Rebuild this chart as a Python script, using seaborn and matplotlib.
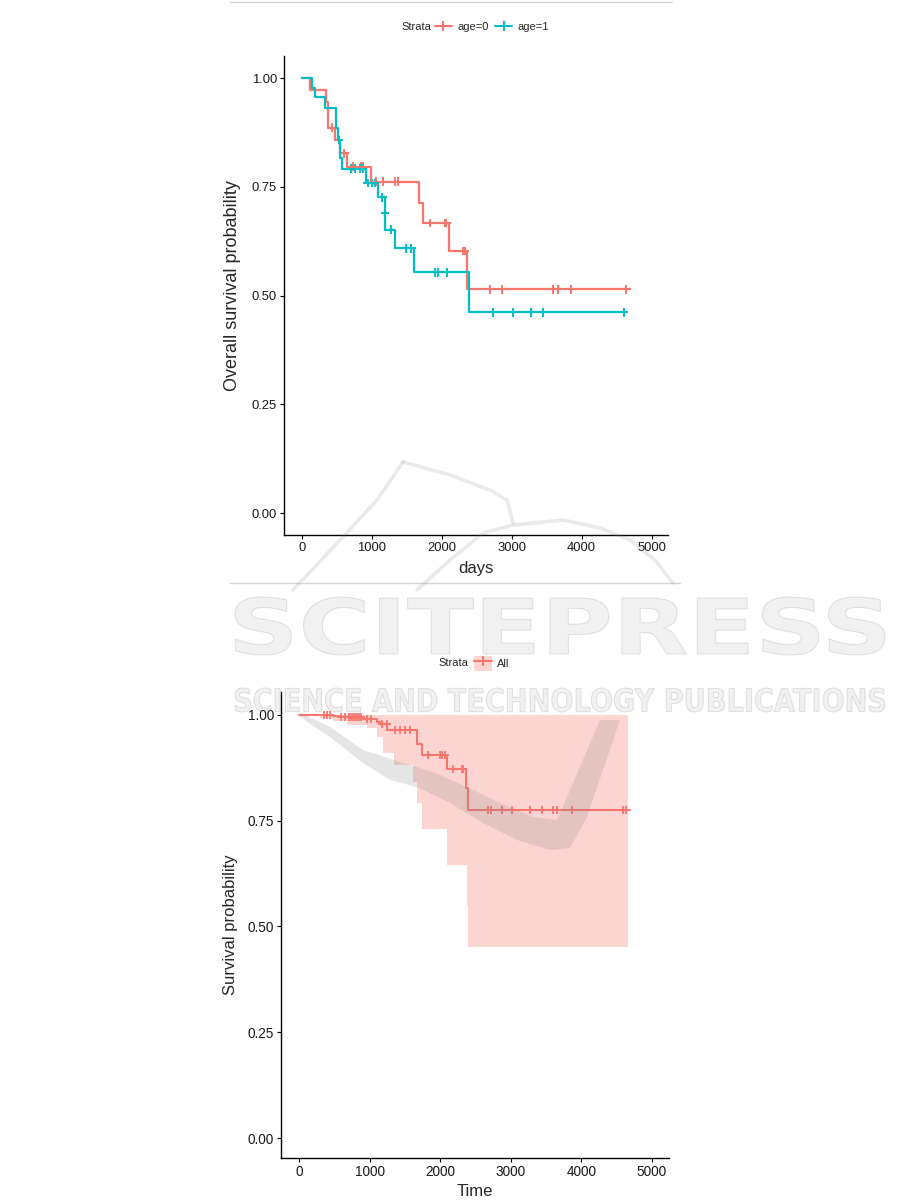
import numpy as np
import pandas as pd
import matplotlib
matplotlib.use("Agg")
import matplotlib.pyplot as plt
import seaborn as sns
from matplotlib.lines import Line2D
from matplotlib.patches import Patch, PathPatch, Polygon
from matplotlib.textpath import TextPath
from matplotlib.font_manager import FontProperties
from matplotlib.transforms import Affine2D, IdentityTransform
from matplotlib.legend_handler import HandlerTuple

#%% data
# top panel: KM curves by age group (step times, survival after the step)
age0_time = [0, 114, 352, 376, 481, 543, 650, 985, 1671, 1733, 2100, 2367]
age0_surv = [1.0, 0.973, 0.946, 0.886, 0.858, 0.827, 0.797, 0.762, 0.713, 0.667, 0.603, 0.515]
age0_end = 4686
age0_censor = [438, 605, 733, 843, 876, 1067, 1162, 1329, 1376, 1829, 2043, 2067,
               2305, 2329, 2685, 2867, 3590, 3662, 3852, 4638]

age1_time = [0, 148, 195, 338, 486, 524, 543, 571, 914, 1090, 1186, 1195, 1338, 1605, 2390]
age1_surv = [1.0, 0.978, 0.957, 0.931, 0.886, 0.858, 0.816, 0.792, 0.759, 0.726, 0.690,
             0.652, 0.609, 0.554, 0.462]
age1_end = 4614
age1_censor = [529, 710, 760, 830, 870, 940, 1000, 1040, 1152, 1190, 1281, 1495, 1567,
               1905, 1952, 2071, 2733, 3019, 3271, 3448, 4605]

# bottom panel: overall KM curve with confidence band
all_time = [0, 480, 560, 900, 1100, 1150, 1250, 1667, 1738, 2092, 2365, 2390]
all_surv = [1.0, 0.998, 0.995, 0.990, 0.984, 0.979, 0.9645, 0.931, 0.905, 0.871, 0.827, 0.775]
all_end = 4688
all_censor = [359, 402, 439, 600, 650, 700, 730, 760, 790, 820, 850, 880, 960, 1020,
              1181, 1242, 1360, 1431, 1502, 1573, 1832, 1998, 2021, 2069, 2186, 2304,
              2328, 2682, 2715, 2870, 3012, 3272, 3437, 3602, 3650, 3862, 4594, 4632]
band_time = [0, 300, 480, 680, 960, 1100, 1195, 1346, 1610, 1676, 1747, 2096, 2375, 2398, 4655]
band_low = [1.0, 0.993, 0.985, 0.975, 0.968, 0.947, 0.911, 0.882, 0.842, 0.791, 0.730,
            0.645, 0.551, 0.452, 0.452]
band_high = [1.0] * len(band_time)

RED = "#F8766D"
TEAL = "#00BFC4"


def step_frame(times, surv, t_end, label):
    return pd.DataFrame({"time": list(times) + [t_end],
                         "surv": list(surv) + [surv[-1]],
                         "strata": label})


def censor_frame(times, surv, cens, label):
    idx = np.searchsorted(times, cens, side="right") - 1
    return pd.DataFrame({"time": cens, "surv": np.asarray(surv)[idx], "strata": label})


curves = pd.concat([step_frame(age0_time, age0_surv, age0_end, "age=0"),
                    step_frame(age1_time, age1_surv, age1_end, "age=1")])
cens = pd.concat([censor_frame(age0_time, age0_surv, age0_censor, "age=0"),
                  censor_frame(age1_time, age1_surv, age1_censor, "age=1")])
all_curve = step_frame(all_time, all_surv, all_end, "All")
all_cens = censor_frame(all_time, all_surv, all_censor, "All")

#%% figure
sns.set_style("white")
plt.rcParams["font.family"] = ["Liberation Sans", "DejaVu Sans"]
fig = plt.figure(figsize=(9.01, 12.02), dpi=100)
pal = {"age=0": RED, "age=1": TEAL}

ax1 = fig.add_axes([0.315, 0.555, 0.426, 0.398])
sns.lineplot(data=curves, x="time", y="surv", hue="strata", palette=pal,
             drawstyle="steps-post", estimator=None, linewidth=1.6, legend=False, ax=ax1)
sns.scatterplot(data=cens, x="time", y="surv", hue="strata", palette=pal, marker="+",
                s=40, linewidth=1.4, legend=False, ax=ax1)
ax1.set_xlim(-257, 5229)
ax1.set_ylim(-0.05, 1.05)
ax1.set_xticks([0, 1000, 2000, 3000, 4000, 5000])
ax1.set_yticks([0, 0.25, 0.5, 0.75, 1.0])
ax1.set_yticklabels(["0.00", "0.25", "0.50", "0.75", "1.00"])
ax1.set_xlabel("days", fontsize=12)
ax1.set_ylabel("Overall survival probability", fontsize=13)
ax1.xaxis.set_label_coords(0.5, -0.055)
ax1.yaxis.set_label_coords(-0.112, 0.522)

ax2 = fig.add_axes([0.312, 0.0366, 0.4305, 0.3877])
ax2.fill_between(band_time, band_low, band_high, step="post", color=RED, alpha=0.3,
                 linewidth=0)
sns.lineplot(data=all_curve, x="time", y="surv", color=RED, drawstyle="steps-post",
             estimator=None, linewidth=1.5, ax=ax2)
sns.scatterplot(data=all_cens, x="time", y="surv", color=RED, marker="+", s=40,
                linewidth=1.3, ax=ax2)
ax2.set_xlim(-255, 5241)
ax2.set_ylim(-0.047, 1.054)
ax2.set_xticks([0, 1000, 2000, 3000, 4000, 5000])
ax2.set_yticks([0, 0.25, 0.5, 0.75, 1.0])
ax2.set_yticklabels(["0.00", "0.25", "0.50", "0.75", "1.00"])
ax2.set_xlabel("Time", fontsize=12)
ax2.set_ylabel("Survival probability", fontsize=12)
ax2.xaxis.set_label_coords(0.5, -0.055)
ax2.yaxis.set_label_coords(-0.111, 0.5)

for ax, fs in [(ax1, 9.4), (ax2, 9.8)]:
    sns.despine(ax=ax)
    ax.grid(False)
    for s in ["left", "bottom"]:
        ax.spines[s].set_color("black")
        ax.spines[s].set_linewidth(1.0)
    ax.tick_params(axis="both", direction="out", length=3, width=0.8, color="black",
                   labelsize=fs, labelcolor="#1a1a1a", pad=2, left=True, bottom=True)

#%% legends
fig.text(401 / 901, 1 - 27 / 1202, "Strata", fontsize=8, va="center", ha="left")
h0 = Line2D([], [], color=RED, marker="+", markersize=7, lw=1.5, mew=1.4)
h1 = Line2D([], [], color=TEAL, marker="+", markersize=7, lw=1.5, mew=1.4)
fig.legend([h0, h1], ["age=0", "age=1"], loc="center left", ncol=2,
           bbox_to_anchor=(435 / 901, 1 - 27 / 1202), frameon=False, fontsize=8,
           handlelength=1.5, handletextpad=0.5, columnspacing=0.6, borderpad=0,
           borderaxespad=0)

fig.text(438 / 901, 1 - 663 / 1202, "Strata", fontsize=8, va="center", ha="left")
hb = (Patch(facecolor=RED, alpha=0.3, edgecolor="none"),
      Line2D([], [], color=RED, marker="+", markersize=7, lw=1.5, mew=1.4))
fig.legend([hb], ["All"], loc="center left", bbox_to_anchor=(474 / 901, 1 - 663 / 1202),
           frameon=False, fontsize=8, handlelength=1.65, handleheight=1.7,
           handletextpad=0.4, borderpad=0, borderaxespad=0,
           handler_map={tuple: HandlerTuple(ndivide=1, pad=0)})

#%% page decorations: rules and publisher watermark (pixel coordinates)
H = 1202
fig.add_artist(Line2D([230 / 901, 672 / 901], [1 - 2 / H] * 2, color="#d4d4d4", lw=1))
fig.add_artist(Line2D([230 / 901, 680 / 901], [1 - 583 / H] * 2, color="#d4d4d4", lw=1))
WM = (0.5, 0.5, 0.5)


def watermark(text, x0, x1, y0, y1):
    tp = TextPath((0, 0), text, size=100,
                  prop=FontProperties(family="DejaVu Sans", weight="bold"))
    bb = tp.get_extents()
    tr = (Affine2D().translate(-bb.x0, -bb.y0)
          .scale((x1 - x0) / bb.width, (y1 - y0) / bb.height)
          .translate(x0, H - y1))
    fig.add_artist(PathPatch(tr.transform_path(tp), facecolor=WM + (0.11,),
                             edgecolor=WM + (0.2,), lw=0.8,
                             transform=IdentityTransform(), zorder=5))


def px(points):
    return [(x, H - y) for x, y in points]


watermark("SCITEPRESS", 235, 885, 597, 655)
watermark("SCIENCE AND TECHNOLOGY PUBLICATIONS", 235, 885, 688, 712)

# logo strokes above the watermark text
for stroke in [[(293, 590), (340, 540), (377, 500), (403, 462)],
               [(403, 462), (450, 475), (490, 490), (507, 500), (513, 523)],
               [(417, 590), (450, 560), (483, 533), (513, 525), (563, 520),
                (600, 528), (630, 540), (655, 560), (673, 583)]]:
    xs, ys = zip(*px(stroke))
    fig.add_artist(Line2D(xs, ys, color=WM, alpha=0.16, lw=2.6,
                          transform=IdentityTransform(), zorder=5))

# swoosh / tick below the watermark text
swoosh = [(300, 713), (330, 727), (363, 750), (400, 762), (433, 772), (467, 787),
          (500, 803), (533, 817), (557, 820), (573, 783), (600, 720), (620, 720),
          (587, 817), (570, 848), (550, 850), (517, 840), (483, 823), (450, 803),
          (417, 787), (390, 780), (363, 763), (330, 737), (300, 717)]
fig.add_artist(Polygon(px(swoosh), closed=True, facecolor=WM + (0.2,),
                       edgecolor="none", transform=IdentityTransform(), zorder=5))

fig.savefig("out.png", dpi=100)
